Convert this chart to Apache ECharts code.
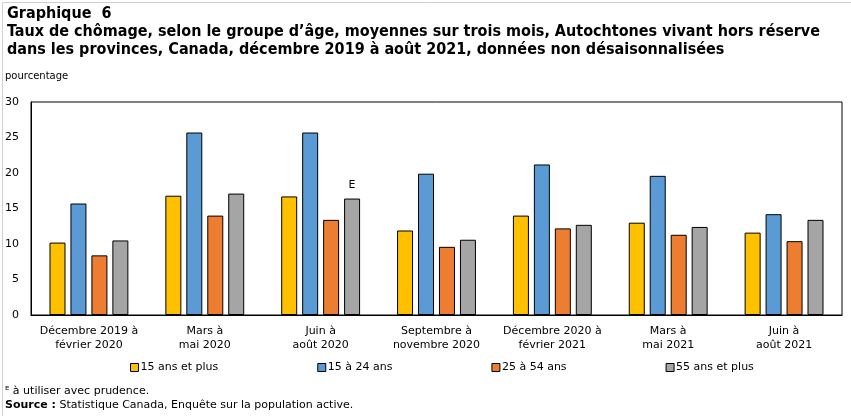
<!DOCTYPE html>
<html>
<head>
<meta charset="utf-8">
<script src="https://cdn.jsdelivr.net/npm/echarts@6/dist/echarts.min.js"></script>
<style>
  html, body { margin: 0; padding: 0; background: #fff; }
  #chart { width: 851px; height: 416px; }
</style>
</head>
<body>
<div id="chart"></div>
<script>
// périodes (catégories)
const periodes = [
  'Décembre 2019 à\nfévrier 2020',
  'Mars à\nmai 2020',
  'Juin à\naoût 2020',
  'Septembre à\nnovembre 2020',
  'Décembre 2020 à\nfévrier 2021',
  'Mars à\nmai 2021',
  'Juin à\naoût 2021'
];
const groupes = ['15 ans et plus', '15 à 24 ans', '25 à 54 ans', '55 ans et plus'];
const ans15plus = [10.2, 16.8, 16.7, 11.9, 14.0, 13.0, 11.6];
const ans15a24 = [15.7, 25.7, 25.7, 19.9, 21.2, 19.6, 14.2];
const ans25a54 = [8.4, 14.0, 13.4, 9.6, 12.2, 11.3, 10.4];
const ans55plus = [10.5, 17.1, 16.4, 10.6, 12.7, 12.4, 13.4];
const couleurs = ['#ffc000', '#5b9bd5', '#ed7d31', '#a5a5a5'];
// estimation à utiliser avec prudence (E)
const prudence = [[], [], [], [2]];

const police = 'DejaVu Sans, Verdana, sans-serif';
const titre = 'bold 16px "DejaVu Sans Condensed", sans-serif';
const chart = echarts.init(document.getElementById('chart'));

const valeurs = [ans15plus, ans15a24, ans25a54, ans55plus];
const series = valeurs.map((d, i) => ({
  name: groupes[i],
  type: 'bar',
  barWidth: 16,
  barGap: '31%',
  itemStyle: { color: couleurs[i], borderColor: '#000', borderWidth: 1 },
  data: d.map((v, j) => prudence[i].includes(j)
    ? { value: v, label: { show: true, position: 'top', formatter: 'E', distance: 8, fontFamily: police, fontSize: 11, color: '#000' } }
    : v)
}));

chart.setOption({
  animation: false,
  backgroundColor: '#fff',
  textStyle: { fontFamily: police },
  grid: { left: 31, right: 9, top: 102, bottom: 101, show: true, borderColor: '#000', borderWidth: 1 },
  legend: {
    bottom: 38,
    left: 125,
    itemWidth: 8,
    itemHeight: 8,
    itemGap: 99,
    icon: 'rect',
    textStyle: { fontFamily: police, fontSize: 11, color: '#000', padding: [0, 0, 0, -3] },
    itemStyle: { borderColor: '#000', borderWidth: 1 },
    data: groupes
  },
  xAxis: {
    type: 'category',
    data: periodes,
    axisLine: { lineStyle: { color: '#000' } },
    axisTick: { show: false },
    axisLabel: { fontFamily: police, fontSize: 11, color: '#000', lineHeight: 14, margin: 9, interval: 0 }
  },
  yAxis: {
    type: 'value',
    min: 0,
    max: 30,
    interval: 5,
    axisLine: { show: true, lineStyle: { color: '#000' } },
    axisTick: { show: false },
    splitLine: { show: false },
    axisLabel: { fontFamily: police, fontSize: 11, color: '#000', margin: 12 }
  },
  graphic: [
    { type: 'rect', left: 0, top: 0, shape: { width: 850, height: 415 }, style: { fill: 'none', stroke: '#d0d0d0', lineWidth: 1 }, silent: true },
    { type: 'text', left: 7, top: 6, style: { text: 'Graphique  6', font: titre, fill: '#000' } },
    { type: 'text', left: 7, top: 24, style: { text: 'Taux de chômage, selon le groupe d’âge, moyennes sur trois mois, Autochtones vivant hors réserve', font: titre, fill: '#000' } },
    { type: 'text', left: 7, top: 42, style: { text: 'dans les provinces, Canada, décembre 2019 à août 2021, données non désaisonnalisées', font: titre, fill: '#000' } },
    { type: 'text', left: 5, top: 71, style: { text: 'pourcentage', font: '10px ' + police, fill: '#000' } },
    { type: 'text', left: 5, top: 386, style: { text: 'ᴱ à utiliser avec prudence.', font: '11px ' + police, fill: '#000' } },
    { type: 'text', left: 5, top: 400, style: { text: '{b|Source :} Statistique Canada, Enquête sur la population active.', font: '11px ' + police, fill: '#000', rich: { b: { fontWeight: 'bold', fontFamily: police, fontSize: 11 } } } }
  ],
  series: series
});
</script>
</body>
</html>
